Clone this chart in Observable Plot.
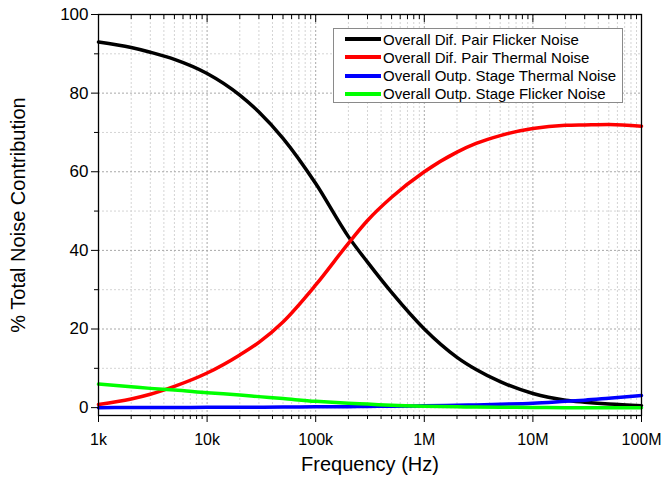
<!DOCTYPE html>
<html><head><meta charset="utf-8">
<script src="https://cdn.jsdelivr.net/npm/d3@7"></script>
<script src="https://cdn.jsdelivr.net/npm/@observablehq/plot@0.6"></script>
<style>
body{margin:0;background:#fff;}
#wrap{position:relative;width:661px;height:487px;font-family:Arial,"Liberation Sans",sans-serif;}
#legend{position:absolute;left:333px;top:28px;width:290px;height:75px;border:1px solid #8a8a8a;background:#fff;font-size:15px;box-sizing:border-box;}
.row{position:absolute;left:0;height:18px;display:flex;align-items:center;white-space:nowrap;color:#000;}
.sw{width:36px;height:4px;margin-left:11px;margin-right:2px;}
</style></head>
<body><div id="wrap"></div>
<script>
const freq = [1e3,2e3,3e3,5e3,1e4,2e4,3e4,5e4,1e5,2e5,3e5,5e5,1e6,2e6,3e6,5e6,1e7,2e7,3e7,5e7,1e8];
const difPairFlicker = [93.0,91.6,90.4,88.6,85.0,79.5,75.2,68.5,57.0,43.5,37.0,29.3,20.0,12.8,9.7,6.6,3.6,1.9,1.4,0.9,0.5];
const difPairThermal = [0.8,2.2,3.4,5.4,8.8,13.4,16.6,21.8,31.2,41.8,47.6,53.5,60.0,65.0,67.2,69.2,71.0,71.8,71.9,72.0,71.6];
const outpThermal = [0.0,0.02,0.03,0.05,0.07,0.1,0.12,0.15,0.2,0.25,0.3,0.35,0.45,0.6,0.7,0.85,1.1,1.6,1.9,2.4,3.1];
const outpFlicker = [6.0,5.3,4.9,4.5,3.8,3.2,2.8,2.3,1.6,1.1,0.9,0.6,0.35,0.2,0.15,0.1,0.05,0.0,0.0,0.0,0.0];
const seriesNames = ["Overall Dif. Pair Flicker Noise","Overall Dif. Pair Thermal Noise","Overall Outp. Stage Thermal Noise","Overall Outp. Stage Flicker Noise"];
const seriesColors = ["#000000","#ff0000","#0000ff","#00ff00"];
const xMajor = [1e3,1e4,1e5,1e6,1e7,1e8];
const xMajorLabels = ["1k","10k","100k","1M","10M","100M"];
const yMajor = [0,20,40,60,80,100];
const yMinor = [10,30,50,70,90];
const xTitle = "Frequency (Hz)";
const yTitle = "% Total Noise Contribution";

const xMinor = [];
for (let d = 1e3; d < 1e8; d *= 10) for (let k = 2; k <= 9; k++) xMinor.push(d * k);
const seriesValues = [difPairFlicker, difPairThermal, outpThermal, outpFlicker];
const rows = [];
seriesNames.forEach((n, s) => freq.forEach((f, i) => rows.push({f, v: seriesValues[s][i], name: n})));
const fmt = d => xMajorLabels[xMajor.indexOf(d)] ?? "";

const chart = Plot.plot({
  width: 661, height: 487,
  marginLeft: 98, marginRight: 20, marginTop: 14, marginBottom: 72,
  style: {fontFamily: "Arial, 'Liberation Sans', sans-serif", color: "#000", background: "#fff"},
  x: {type: "log", domain: [1e3, 1e8]},
  y: {domain: [-2, 100]},
  color: {domain: seriesNames, range: seriesColors},
  marks: [
    Plot.gridX(xMinor, {stroke: "#d4d4d4", strokeOpacity: 1, strokeDasharray: "2,2"}),
    Plot.gridX(xMajor, {stroke: "#a8a8a8", strokeOpacity: 1, strokeDasharray: "2,2"}),
    Plot.gridY(yMinor, {stroke: "#d4d4d4", strokeOpacity: 1, strokeDasharray: "2,2"}),
    Plot.gridY(yMajor.filter(d => d < 100), {stroke: "#a8a8a8", strokeOpacity: 1, strokeDasharray: "2,2"}),
    Plot.line(rows, {x: "f", y: "v", z: "name", stroke: "name", strokeWidth: 3.5, curve: "monotone-x"}),
    Plot.frame({stroke: "#000", strokeWidth: 1.3}),
    Plot.axisX(xMajor, {anchor: "bottom", tickSize: 7, tickPadding: 11, tickFormat: fmt, fontSize: 16, label: null}),
    Plot.axisX(xMinor, {anchor: "bottom", tickSize: 4, tickFormat: () => "", label: null}),
    Plot.axisX(xMajor, {anchor: "top", tickSize: -7, tickFormat: () => "", label: null}),
    Plot.axisX(xMinor, {anchor: "top", tickSize: -4, tickFormat: () => "", label: null}),
    Plot.axisY(yMajor, {anchor: "left", tickSize: 7, tickPadding: 3, fontSize: 17, label: null}),
    Plot.axisY(yMinor, {anchor: "left", tickSize: 4, tickFormat: () => "", label: null}),
    Plot.text([xTitle], {frameAnchor: "bottom", dy: 55, fontSize: 20, text: d => d}),
    Plot.text([yTitle], {frameAnchor: "left", textAnchor: "middle", dx: -80, rotate: -90, fontSize: 20, text: d => d})
  ]
});
const wrap = document.getElementById("wrap");
wrap.appendChild(chart);
const legend = document.createElement("div");
legend.id = "legend";
seriesNames.forEach((n, i) => {
  const row = document.createElement("div");
  row.className = "row";
  row.style.top = (1 + i * 18.3) + "px";
  const sw = document.createElement("span");
  sw.className = "sw";
  sw.style.background = seriesColors[i];
  const t = document.createElement("span");
  t.textContent = n;
  row.appendChild(sw); row.appendChild(t);
  legend.appendChild(row);
});
wrap.appendChild(legend);
</script></body></html>
